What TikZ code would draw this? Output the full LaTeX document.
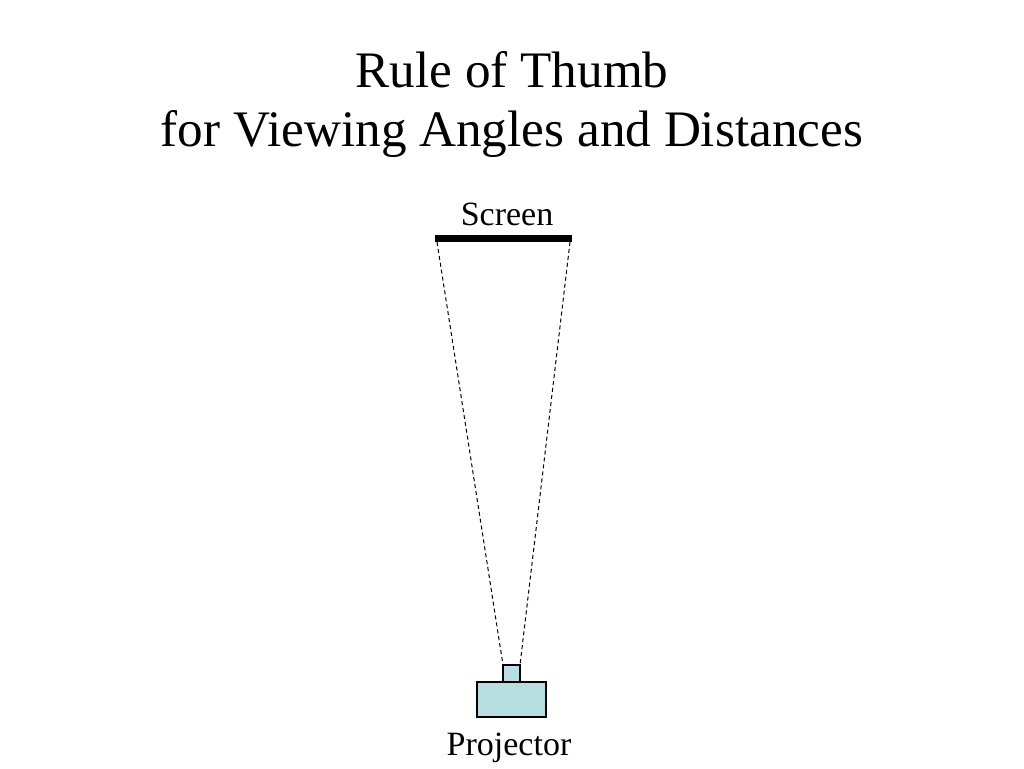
\documentclass[tikz,border=0pt]{standalone}
\usepackage{fontspec}
\setmainfont{Liberation Serif}
\definecolor{projfill}{RGB}{183,222,224}
\begin{document}
\begin{tikzpicture}[x=1pt,y=-1pt,
  titletext/.style={anchor=base,inner sep=0pt,font=\fontsize{51.2}{56}\selectfont},
  labeltext/.style={anchor=base,inner sep=0pt,font=\fontsize{34}{38}\selectfont},
  beam/.style={draw=black,line width=1pt,dash pattern=on 4pt off 3pt},
  projpart/.style={draw=black,line width=1.3pt,fill=projfill}]
\useasboundingbox (0,0) rectangle (1024,768);
\fill[white] (0,0) rectangle (1024,768);
\node[titletext] (t1) at (512,87) {Rule of Thumb};
\node[titletext] (t2) at (512,146) {for Viewing Angles and Distances};
\node[labeltext] (screenlabel) at (507,225) {Screen};
\node[labeltext] (projlabel) at (509,755) {Projector};
% screen
\fill[black] (435,235) rectangle (572,242);
\coordinate (sl) at (437,242);
\coordinate (sr) at (570,242);
% projector
\draw[projpart] (477,682) rectangle (546,717);
\draw[projpart] (503,665) rectangle (520,682);
\coordinate (ll) at (503,665);
\coordinate (lr) at (520,665);
\draw[beam] (sl) -- (ll);
\draw[beam] (sr) -- (lr);
\end{tikzpicture}
\end{document}
